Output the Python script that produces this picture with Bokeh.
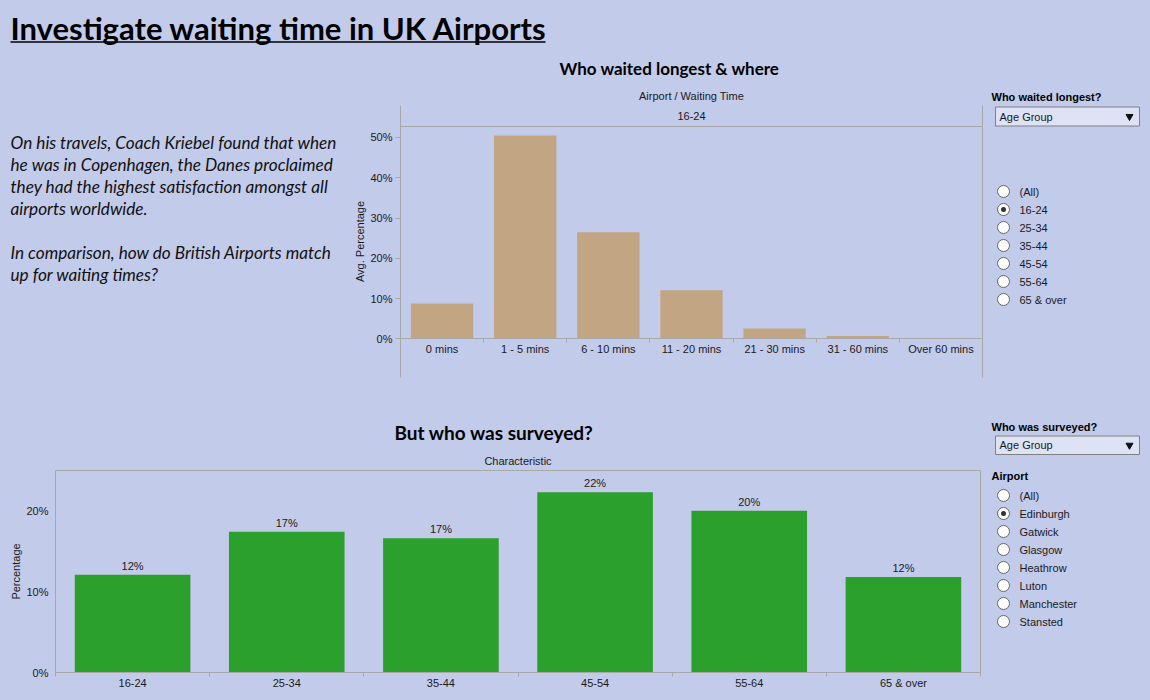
from bokeh.plotting import figure
from bokeh.layouts import column, row
from bokeh.models import (Range1d, FixedTicker, NumeralTickFormatter, LinearAxis, Span, Label,
                          ColumnDataSource, LabelSet, GlobalInlineStyleSheet, Title)
from bokeh.core.properties import value
from bokeh.embed import file_html
from bokeh.resources import INLINE

# ---------------- data ----------------
page_title = "Investigate waiting time in UK Airports"
intro_lines = [
    "On his travels, Coach Kriebel found that when",
    "he was in Copenhagen, the Danes proclaimed",
    "they had the highest satisfaction amongst all",
    "airports worldwide.",
    "",
    "In comparison, how do British Airports match",
    "up for waiting times?",
]
waiting_times = ["0 mins", "1 - 5 mins", "6 - 10 mins", "11 - 20 mins",
                 "21 - 30 mins", "31 - 60 mins", "Over 60 mins"]
avg_percentage = [0.088, 0.505, 0.265, 0.121, 0.026, 0.007, 0.0]
selected_age_group = "16-24"

age_groups = ["16-24", "25-34", "35-44", "45-54", "55-64", "65 & over"]
survey_percentage = [0.121, 0.174, 0.166, 0.223, 0.200, 0.118]

age_options = ["(All)"] + age_groups
airport_options = ["(All)", "Edinburgh", "Gatwick", "Glasgow", "Heathrow",
                   "Luton", "Manchester", "Stansted"]
selected_airport = "Edinburgh"
pct_ticks_top = [0, 0.1, 0.2, 0.3, 0.4, 0.5]
pct_ticks_bottom = [0, 0.1, 0.2]

# ---------------- style ----------------
BG = "#C3CBEB"
GREY = "#A8A8A8"
TAN = "#C2A582"
GREEN = "#2CA02C"
INK = "#1A1A1A"
UI = "Liberation Sans"
HEAD = "Lato"


def base_fig(fw, fh, l, r, t, b, xr, yr):
    return figure(frame_width=fw, frame_height=fh, min_border_left=l, min_border_right=r,
                  min_border_top=t, min_border_bottom=b, x_range=xr, y_range=yr,
                  x_axis_type=None, y_axis_type=None, output_backend="svg",
                  toolbar_location=None, background_fill_color=BG,
                  border_fill_color=BG, outline_line_color=None, frame_align=False)


def canvas(x0, x1, y0, y1):
    return base_fig(x1 - x0, y1 - y0, 0, 0, 0, 0, Range1d(x0, x1), Range1d(y1, y0))


def style_axis(ax, tick_out=0, minor_out=0):
    ax.axis_line_color = GREY
    ax.major_tick_line_color = GREY
    ax.major_tick_out = tick_out
    ax.major_tick_in = 0
    ax.minor_tick_line_color = GREY if minor_out else None
    ax.minor_tick_out = minor_out
    ax.minor_tick_in = 0
    ax.major_label_text_font = UI
    ax.major_label_text_font_size = "11px"
    ax.major_label_text_color = INK
    ax.axis_label_text_font = UI
    ax.axis_label_text_font_size = "11px"
    ax.axis_label_text_font_style = "normal"
    ax.axis_label_text_color = INK


def style_title(t, text, size, font, style, align="center", offset=0, standoff=10):
    t.text = text
    t.text_font = font
    t.text_font_size = size
    t.text_font_style = style
    t.text_color = "#000000" if style == "bold" else INK
    t.align = align
    t.offset = offset
    t.standoff = standoff


# ---------------- header ----------------
head = canvas(0, 1150, 0, 50)
head.text(x=[10], y=[27.5], text=[page_title], text_font=value(HEAD),
          text_font_style=value("bold"), text_font_size="31px", text_color="#000000",
          text_baseline="middle", text_align="left")
head.segment(x0=[10], y0=[41.5], x1=[545], y1=[41.5], line_color="#000000", line_width=1.6)

# ---------------- intro text ----------------
intro = canvas(0, 345, 50, 400)
intro_y = [142 + 22 * i for i in range(len(intro_lines))]
intro.text(x=[10] * len(intro_lines), y=intro_y, text=intro_lines, text_font=value(HEAD),
           text_font_style=value("italic"), text_font_size="17.2px", text_color="#111111",
           text_baseline="middle", text_align="left")

# ---------------- chart 1 ----------------
n1 = len(waiting_times)
centers1 = [i + 0.5 for i in range(n1)]
p1 = base_fig(582, 272, 55, 3, 54, 24, Range1d(0, n1), Range1d(-0.0958, 0.5794))
p1.vbar(x=centers1, top=avg_percentage, width=0.75, fill_color=TAN, line_color=None)

ya1 = LinearAxis(ticker=FixedTicker(ticks=pct_ticks_top),
                 formatter=NumeralTickFormatter(format="0%"), axis_label="Avg. Percentage")
style_axis(ya1, 5)
ya1.major_label_standoff = 3
ya1.axis_label_standoff = 1
p1.add_layout(ya1, "left")

xa1 = LinearAxis(ticker=FixedTicker(ticks=centers1, minor_ticks=list(range(n1 + 1))),
                 major_label_overrides={c: t for c, t in zip(centers1, waiting_times)},
                 fixed_location=0)
style_axis(xa1, 0, 4)
xa1.major_label_standoff = 0
p1.add_layout(xa1, "below")

ra1 = LinearAxis(ticker=FixedTicker(ticks=[]))
style_axis(ra1, 0)
ra1.major_label_text_color = None
p1.add_layout(ra1, "right")
p1.add_layout(Span(location=0.5273, dimension="width", line_color=GREY, line_width=1))

style_title(p1.title, "Who waited longest & where", "17px", HEAD, "bold",
            align="left", offset=159, standoff=10)
sub1 = Title()
style_title(sub1, "Airport / Waiting Time", "11px", UI, "normal", standoff=8)
p1.add_layout(sub1, "above")
p1.add_layout(Label(x=291, y=262, x_units="screen", y_units="screen", text=selected_age_group,
                    text_font=UI, text_font_size="11px", text_color=INK,
                    text_align="center", text_baseline="middle"))

# ---------------- chart 2 ----------------
n2 = len(age_groups)
centers2 = [i + 0.5 for i in range(n2)]
p2 = base_fig(925, 202, 55, 5, 69, 27, Range1d(0, n2), Range1d(0, 0.2498))
p2.outline_line_color = GREY
p2.vbar(x=centers2, top=survey_percentage, width=0.75, fill_color=GREEN, line_color=None)
src2 = ColumnDataSource(dict(x=centers2, top=survey_percentage,
                             label=[f"{v:.0%}" for v in survey_percentage]))
p2.add_layout(LabelSet(x="x", y="top", text="label", source=src2, y_offset=3,
                       text_align="center", text_baseline="bottom", text_font=value(UI),
                       text_font_size="11px", text_color=INK))

ya2 = LinearAxis(ticker=FixedTicker(ticks=pct_ticks_bottom),
                 formatter=NumeralTickFormatter(format="0%"), axis_label="Percentage")
style_axis(ya2, 0)
ya2.major_label_standoff = 7
ya2.axis_label_standoff = 1
p2.add_layout(ya2, "left")

xa2 = LinearAxis(ticker=FixedTicker(ticks=centers2, minor_ticks=list(range(n2 + 1))),
                 major_label_overrides={c: t for c, t in zip(centers2, age_groups)})
style_axis(xa2, 0, 4)
xa2.major_label_standoff = 0
p2.add_layout(xa2, "below")

style_title(p2.title, "But who was surveyed?", "19px", HEAD, "bold",
            align="left", offset=339, standoff=10)
sub2 = Title()
style_title(sub2, "Characteristic", "11px", UI, "normal", standoff=8)
p2.add_layout(sub2, "above")


# ---------------- control panels ----------------
def dropdown(c, top, bottom, text):
    c.quad(left=[995], right=[1139], top=[top], bottom=[bottom], fill_color="#DDE2F4",
           line_color="#808080", line_width=1)
    mid = (top + bottom) / 2
    c.text(x=[999], y=[mid], text=[text], text_font=value(UI), text_font_size="11px",
           text_color=INK, text_baseline="middle", text_align="left")
    c.scatter(x=[1129], y=[mid], marker="inverted_triangle", size=7,
              fill_color="#111111", line_color="#111111")


def radios(c, y0, options, selected):
    ys = [y0 + 18 * i for i in range(len(options))]
    c.scatter(x=[1003] * len(options), y=ys, marker="circle", size=12,
              fill_color="#FFFFFF", line_color="#666666", line_width=1)
    sel = [y for y, o in zip(ys, options) if o == selected]
    c.scatter(x=[1003] * len(sel), y=sel, marker="circle", size=5,
              fill_color="#333333", line_color=None)
    c.text(x=[1019] * len(options), y=ys, text=options, text_font=value(UI),
           text_font_size="11px", text_color=INK, text_baseline="middle", text_align="left")


def heading(c, y, text):
    c.text(x=[991], y=[y], text=[text], text_font=value(UI), text_font_size="11px",
           text_font_style=value("bold"), text_color="#000000", text_baseline="middle",
           text_align="left")


panel1 = canvas(985, 1150, 50, 400)
heading(panel1, 96.5, "Who waited longest?")
dropdown(panel1, 106.5, 125.5, "Age Group")
radios(panel1, 191, age_options, selected_age_group)

panel2 = canvas(985, 1150, 400, 698)
heading(panel2, 425, "Who was surveyed?")
dropdown(panel2, 434.5, 453, "Age Group")
heading(panel2, 474, "Airport")
radios(panel2, 494, airport_options, selected_airport)

layout = column(head, row(intro, p1, panel1), row(p2, panel2),
                stylesheets=[GlobalInlineStyleSheet(css="body{margin:0;background:#C3CBEB;}")])

open("out.html", "w").write(file_html(layout, INLINE))
